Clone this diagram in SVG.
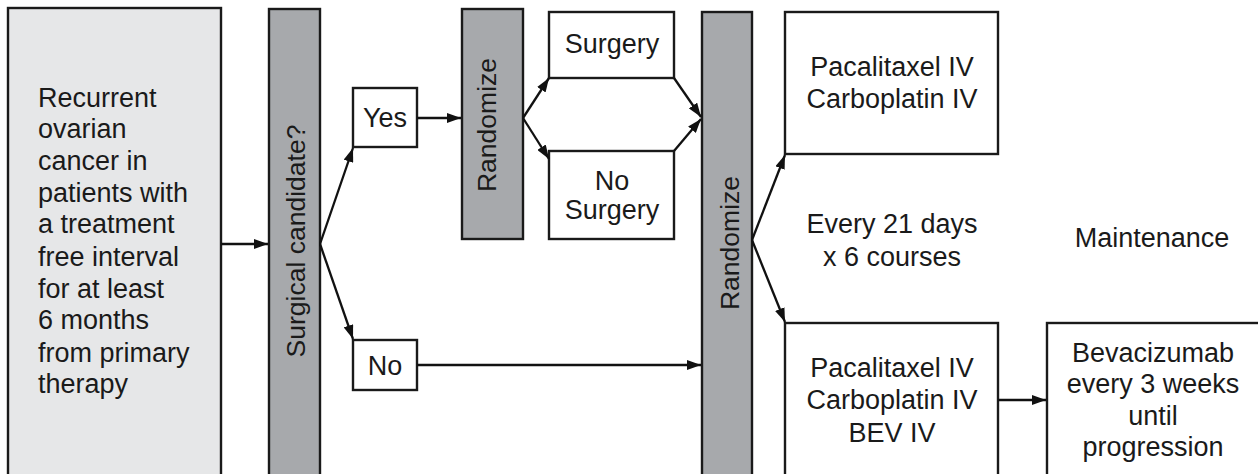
<svg xmlns="http://www.w3.org/2000/svg" width="1258" height="474" viewBox="0 0 1258 474">
<style>
.box{fill:#ffffff;stroke:#1a1a1a;stroke-width:2.4}
.light{fill:#e6e7e8;stroke:#1a1a1a;stroke-width:2.4}
.bar{fill:#a7a9ac;stroke:#1a1a1a;stroke-width:2.4}
text{font-family:"Liberation Sans",Arial,sans-serif;font-size:27px;fill:#1a1a1a}
.rot{font-size:26.5px}
.c{text-anchor:middle}
.conn line{stroke:#111;stroke-width:2.3;marker-end:url(#ah)}
</style>
<defs>
<marker id="ah" viewBox="0 0 14 10" refX="14" refY="5" markerWidth="14" markerHeight="10" markerUnits="userSpaceOnUse" orient="auto">
<path d="M0,0 L14,5 L0,10 Z" fill="#111"/>
</marker>
</defs>
<rect width="1258" height="474" fill="#ffffff"/>
<g id="start">
<rect class="light" x="8" y="8" width="213" height="470"/>
<text x="38" y="107">Recurrent</text>
<text x="38" y="138">ovarian</text>
<text x="38" y="170">cancer in</text>
<text x="38" y="202">patients with</text>
<text x="38" y="233">a treatment</text>
<text x="38" y="266">free interval</text>
<text x="38" y="298">for at least</text>
<text x="38" y="329">6 months</text>
<text x="38" y="362">from primary</text>
<text x="38" y="393">therapy</text>
</g>
<g id="surgical-candidate">
<rect class="bar" x="269" y="9" width="51" height="469"/>
<text class="c rot" transform="translate(305,241) rotate(-90)">Surgical candidate?</text>
</g>
<g id="yes">
<rect class="box" x="353" y="88" width="64" height="59"/>
<text class="c" x="385" y="127">Yes</text>
</g>
<g id="no">
<rect class="box" x="353" y="340" width="64" height="50"/>
<text class="c" x="385" y="375">No</text>
</g>
<g id="randomize1">
<rect class="bar" x="462" y="9" width="61" height="230"/>
<text class="c rot" transform="translate(496,125) rotate(-90)">Randomize</text>
</g>
<g id="surgery">
<rect class="box" x="549" y="12" width="125" height="66"/>
<text class="c" x="612" y="53">Surgery</text>
</g>
<g id="no-surgery">
<rect class="box" x="549" y="151" width="125" height="88"/>
<text class="c" x="612" y="190">No</text>
<text class="c" x="612" y="219">Surgery</text>
</g>
<g id="randomize2">
<rect class="bar" x="702" y="12" width="50" height="466"/>
<text class="c rot" transform="translate(739,243) rotate(-90)">Randomize</text>
</g>
<g id="arm1">
<rect class="box" x="785" y="12" width="213" height="142"/>
<text class="c" x="892" y="76">Pacalitaxel IV</text>
<text class="c" x="892" y="108">Carboplatin IV</text>
</g>
<g id="schedule">
<text class="c" x="892" y="233">Every 21 days</text>
<text class="c" x="892" y="266">x 6 courses</text>
</g>
<g id="maintenance">
<text class="c" x="1152" y="247">Maintenance</text>
</g>
<g id="arm2">
<rect class="box" x="785" y="323" width="213" height="155"/>
<text class="c" x="892" y="377">Pacalitaxel IV</text>
<text class="c" x="892" y="409">Carboplatin IV</text>
<text class="c" x="892" y="442">BEV IV</text>
</g>
<g id="bevacizumab">
<rect class="box" x="1047" y="323" width="215" height="155"/>
<text class="c" x="1153" y="362">Bevacizumab</text>
<text class="c" x="1153" y="393">every 3 weeks</text>
<text class="c" x="1153" y="425">until</text>
<text class="c" x="1153" y="456">progression</text>
</g>
<g id="connectors" class="conn">
<line x1="221" y1="244" x2="268" y2="244"/>
<line x1="320" y1="244" x2="353" y2="148"/>
<line x1="320" y1="244" x2="353" y2="339"/>
<line x1="417" y1="118" x2="461" y2="118"/>
<line x1="417" y1="365" x2="701" y2="365"/>
<line x1="523" y1="118" x2="549" y2="78"/>
<line x1="523" y1="118" x2="549" y2="159"/>
<line x1="674" y1="78" x2="701" y2="117"/>
<line x1="674" y1="151" x2="701" y2="119"/>
<line x1="752" y1="240" x2="785" y2="155"/>
<line x1="752" y1="240" x2="785" y2="322"/>
<line x1="998" y1="400" x2="1046" y2="400"/>
</g>
</svg>
